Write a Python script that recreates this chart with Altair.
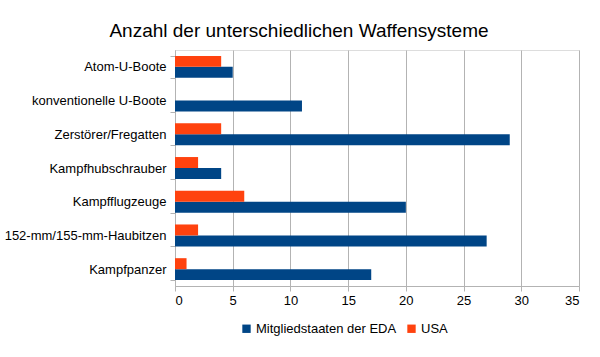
import altair as alt
import pandas as pd

categories = ["Atom-U-Boote", "konventionelle U-Boote", "Zerstörer/Fregatten",
              "Kampfhubschrauber", "Kampfflugzeuge", "152-mm/155-mm-Haubitzen", "Kampfpanzer"]
eda = [5, 11, 29, 4, 20, 27, 17]
usa = [4, 0, 4, 2, 6, 2, 1]
series = ["Mitgliedstaaten der EDA", "USA"]
colors = ["#004586", "#ff420e"]
x_ticks = [0, 5, 10, 15, 20, 25, 30, 35]

rows = []
for c, e, u in zip(categories, eda, usa):
    rows.append({"Kategorie": c, "Serie": series[0], "Anzahl": e})
    rows.append({"Kategorie": c, "Serie": series[1], "Anzahl": u})
df = pd.DataFrame(rows)

FONT = "Liberation Sans"
GREY = "#b3b3b3"

bars = alt.Chart(df).mark_bar().encode(
    x=alt.X("Anzahl:Q",
            scale=alt.Scale(domain=[0, 35], nice=False),
            axis=alt.Axis(values=x_ticks, title=None, grid=True, gridColor=GREY,
                          domainColor=GREY, tickColor=GREY, tickSize=5,
                          labelFontSize=13, labelColor="black", labelFont=FONT,
                          labelPadding=3, format="d")),
    y=alt.Y("Kategorie:N", sort=categories,
            scale=alt.Scale(paddingInner=0.35, paddingOuter=0.175),
            axis=alt.Axis(title=None, tickBand="extent", domainColor=GREY, tickColor=GREY,
                          tickSize=5, labelFontSize=13, labelColor="black", labelFont=FONT,
                          labelPadding=4, labelLimit=300, grid=False)),
    yOffset=alt.YOffset("Serie:N", sort=[series[1], series[0]],
                        scale=alt.Scale(paddingInner=0, paddingOuter=0)),
    color=alt.Color("Serie:N",
                    scale=alt.Scale(domain=series, range=colors),
                    legend=alt.Legend(title=None, orient="none", direction="horizontal",
                                      legendX=65, legendY=272, symbolType="square",
                                      symbolSize=70, symbolStrokeWidth=0,
                                      labelFontSize=13, labelFont=FONT, labelColor="black",
                                      columnPadding=8, labelOffset=3)),
)

chart = bars.properties(
    width=404,
    height=236,
    padding={"left": 175, "top": 50, "right": 21, "bottom": 71},
    autosize=alt.AutoSizeParams(type="none"),
    title=alt.TitleParams("Anzahl der unterschiedlichen Waffensysteme", font=FONT,
                          fontSize=19, fontWeight="normal", color="black",
                          anchor="middle", dx=-78, offset=3),
).configure_view(stroke=None).configure(background="white")

chart.save("out.html", embed_options={"renderer": "svg", "actions": False})
